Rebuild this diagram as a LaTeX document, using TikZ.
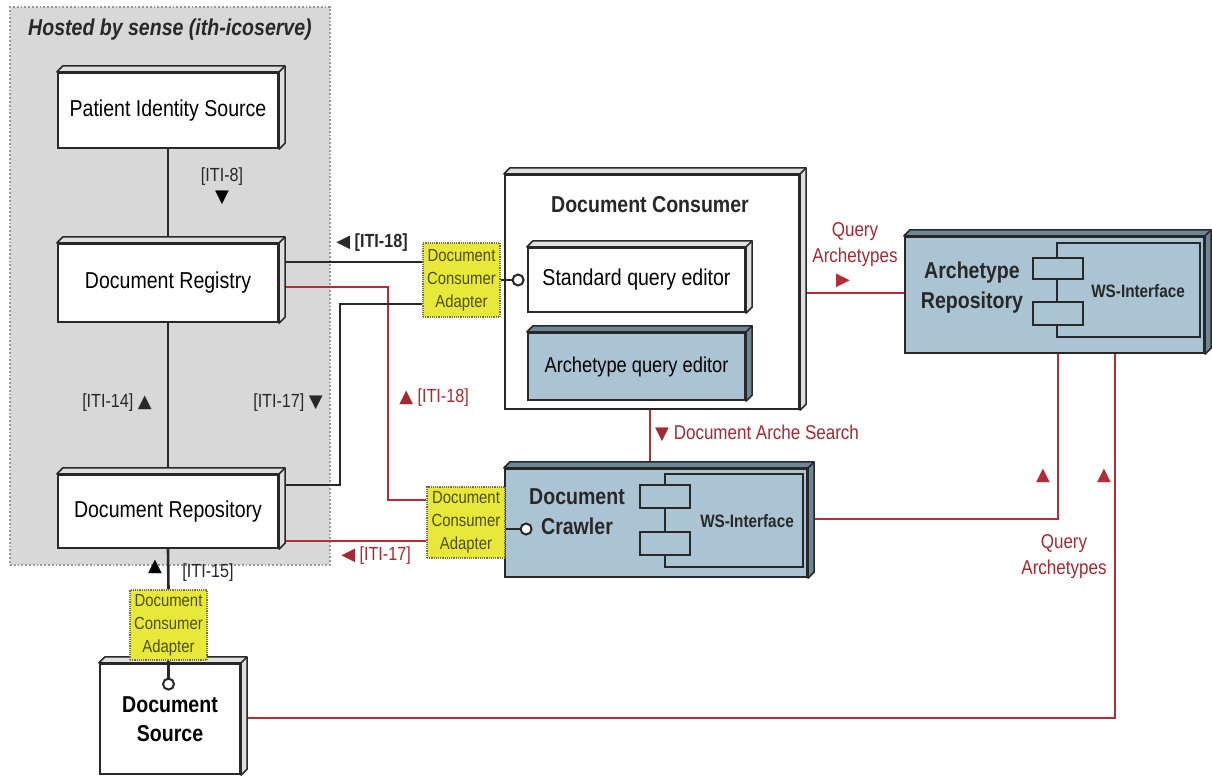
\documentclass[tikz,border=0pt]{standalone}
\usepackage{fontspec}
\setmainfont{Liberation Sans}[FakeStretch=0.85]
\newfontfamily\symf{DejaVu Sans}
\usetikzlibrary{calc}
\pgfdeclarelayer{bgzero}
\pgfdeclarelayer{bgone}
\pgfsetlayers{bgzero,bgone,main}
\definecolor{lred}{RGB}{178,45,55}
\definecolor{tred}{RGB}{165,40,50}
\definecolor{hostgray}{RGB}{216,216,216}
\definecolor{bluefill}{RGB}{170,196,212}
\definecolor{bluedark}{RGB}{110,135,150}
\definecolor{adyel}{RGB}{232,232,58}
\definecolor{adtxt}{RGB}{80,80,10}
\definecolor{edge}{RGB}{40,40,40}
\newcommand\extr[3]{%
  \filldraw[fill=#3, draw=edge, line width=1.6pt, line join=round]
    (#1.north west) -- ++(#2,-#2) -- ($(#1.north east)+(#2,-#2)$)
    -- ($(#1.south east)+(#2,-#2)$) -- (#1.south east) -- (#1.north east) -- cycle;
  \draw[edge, line width=1.6pt] (#1.north east) -- ++(#2,-#2);
}
\tikzset{
  wbox/.style={draw=edge, line width=2.2pt, fill=white, inner sep=0pt, align=center,
    font=\fontsize{23}{27}\selectfont},
  bbox/.style={wbox, fill=bluefill},
  bold/.style={font=\fontsize{23}{30}\selectfont\bfseries, align=center, inner sep=0pt, text=edge},
  adapter/.style={draw=adtxt!80, densely dotted, line width=1.2pt, fill=adyel, inner sep=0pt,
    align=center, text=adtxt, font=\fontsize{17.5}{23}\selectfont},
  conn/.style={line width=2.6pt, draw=edge},
  rconn/.style={line width=2.6pt, draw=lred},
  lbl/.style={font=\fontsize{19}{22}\selectfont, text=edge, inner sep=0pt, align=center},
  rlbl/.style={lbl, text=tred},
  tri/.style={font=\fontsize{18}{18}\selectfont\symf, inner sep=0pt},
  lolli/.style={circle, draw=edge, fill=white, line width=2pt, minimum size=11pt, inner sep=0pt},
  hosted/.style={draw=gray!80, dotted, line width=1.8pt, fill=hostgray, inner sep=0pt},
}
\newcommand\tg[1]{{\symf\fontsize{18}{18}\selectfont #1}}
\begin{document}
\begin{tikzpicture}[x=1pt,y=-1pt]
\useasboundingbox (0,0) rectangle (1212,780);
\begin{pgfonlayer}{bgzero}
\node[hosted, minimum width=320pt, minimum height=558pt] (host) at (170,286) {};
\end{pgfonlayer}
\node[anchor=west, inner sep=0pt, text=edge, font=\fontsize{23}{26}\selectfont\bfseries\itshape] (hosttitle) at (28,30) {Hosted by sense (ith-icoserve)};

% boxes
\node[wbox, minimum width=220pt, minimum height=75pt] (pis) at (168,110.5) {Patient Identity Source};
\node[wbox, minimum width=220pt, minimum height=78pt] (reg) at (168,283) {Document Registry};
\node[wbox, minimum width=220pt, minimum height=73pt] (repo) at (168,511.5) {Document Repository};
\node[wbox, minimum width=140pt, minimum height=110pt, font=\fontsize{23}{29}\selectfont\bfseries] (src) at (170,719) {Document\\Source};
\node[wbox, minimum width=294pt, minimum height=234pt] (cons) at (652,292) {};
\node[bold] (constitle) at (650,205) {Document Consumer};
\node[wbox, minimum width=217pt, minimum height=64pt] (sqe) at (636.5,280) {Standard query editor};
\node[bbox, minimum width=217pt, minimum height=67pt, font=\fontsize{21.5}{25}\selectfont] (aqe) at (636.5,366.5) {Archetype query editor};
\node[bbox, minimum width=302pt, minimum height=108pt] (crawl) at (656,523) {};
\node[bbox, minimum width=299pt, minimum height=116pt] (arch) at (1054.5,295) {};
\extr{pis}{6}{gray!25}
\extr{reg}{6}{gray!25}
\extr{repo}{6}{gray!25}
\extr{src}{6}{gray!25}
\extr{cons}{6}{gray!25}
\extr{sqe}{6}{gray!25}
\extr{aqe}{6}{bluedark}
\extr{crawl}{6}{bluedark}
\extr{arch}{6}{bluedark}

% WS interfaces
\node[draw=edge, line width=2pt, fill=bluefill, minimum width=143pt, minimum height=94pt, inner sep=0pt] (wsA) at (1128.5,290) {};
\node[draw=edge, line width=2pt, fill=bluefill, minimum width=50pt, minimum height=21pt, inner sep=0pt] (sA1) at (1058,268) {};
\node[draw=edge, line width=2pt, fill=bluefill, minimum width=50pt, minimum height=23pt, inner sep=0pt] (sA2) at (1058,313.5) {};
\node[bold, font=\fontsize{18}{20}\selectfont\bfseries] (wsAt) at (1138,291) {WS-Interface};
\node[bold] (archt) at (972,288) {Archetype\\Repository};
\node[draw=edge, line width=2pt, fill=bluefill, minimum width=138pt, minimum height=93pt, inner sep=0pt] (wsC) at (734,520.5) {};
\node[draw=edge, line width=2pt, fill=bluefill, minimum width=50pt, minimum height=23pt, inner sep=0pt] (sC1) at (665,496.5) {};
\node[draw=edge, line width=2pt, fill=bluefill, minimum width=50pt, minimum height=23pt, inner sep=0pt] (sC2) at (665,543.5) {};
\node[bold, font=\fontsize{18}{20}\selectfont\bfseries] (wsCt) at (747,521) {WS-Interface};
\node[bold] (crawlt) at (577,512) {Document\\Crawler};

% adapters
\node[adapter, minimum width=77pt, minimum height=74pt] (ad1) at (461.5,280) {Document\\Consumer\\Adapter};
\node[adapter, minimum width=78pt, minimum height=71pt] (ad2) at (466,522.5) {Document\\Consumer\\Adapter};
\node[adapter, minimum width=77pt, minimum height=70pt] (ad3) at (168.5,625) {Document\\Consumer\\Adapter};

% lollipops
\draw[conn] (ad1.east) -- ++(11,0) node[lolli, anchor=west] (lp1) {};
\draw[conn] (ad2.east |- 0,529) -- ++(14,0) node[lolli, anchor=west] (lp2) {};
\draw[conn] (ad3.south) -- ++(0,17) node[lolli, anchor=north] (lp3) {};

% connectors
\coordinate (kx1) at (388,0);
\coordinate (kx2) at (340,0);
\begin{pgfonlayer}{bgone}
\draw[conn] (pis.south) -- (reg.north);
\draw[conn] (reg.south) -- (repo.north);
\draw[conn] (repo.south) -- (ad3.north);
\path ([yshift=21pt]reg.east) coordinate (r1);
\draw[conn] (r1) -- (r1 -| ad1.west);
\path ([yshift=-4pt]reg.east) coordinate (r2);
\path ([yshift=22.5pt]ad2.west) coordinate (a2in);
\draw[rconn] (r2) -- (r2 -| kx1) |- (a2in);
\path ([yshift=-24pt]ad1.west) coordinate (a1b);
\path ([yshift=26.5pt]repo.east) coordinate (p1);
\draw[conn] (a1b) -- (a1b -| kx2) |- (p1);
\path ([yshift=-29.5pt]repo.east) coordinate (p2);
\draw[rconn] (p2) -- (p2 -| ad2.west);
\path ([xshift=13.5pt]aqe.south) coordinate (q1);
\draw[rconn] (q1) -- (q1 |- crawl.north);
\path ([yshift=-1pt]cons.east) coordinate (c1);
\draw[rconn] (c1) -- (c1 -| arch.west);
\path ([yshift=4pt]crawl.east) coordinate (w1);
\draw[rconn] (w1) -| ([xshift=3.5pt]arch.south);
\path ([yshift=1pt]src.east) coordinate (s1);
\draw[rconn] (s1) -| ([xshift=60.5pt]arch.south);
\end{pgfonlayer}

% labels
\node[lbl] (l8) at (222,177) {[ITI-8]};
\node[tri] (l8t) at (222,198) {▼};
\node[lbl] (l14) at (117,403) {[ITI-14] \tg{▲}};
\node[lbl] (l17) at (288,403) {[ITI-17] \tg{▼}};
\node[lbl, font=\fontsize{19}{22}\selectfont\bfseries] (l18) at (372,243) {\tg{◀} [ITI-18]};
\node[rlbl] (l18r) at (434,398) {\tg{▲} [ITI-18]};
\node[rlbl] (l17r) at (376,556) {\tg{◀} [ITI-17]};
\node[tri] (l15t) at (155,567) {▲};
\node[lbl] (l15) at (208,573) {[ITI-15]};
\node[rlbl, anchor=west, font=\fontsize{20}{22}\selectfont] (das) at (655,433) {\tg{▼} Document Arche Search};
\node[rlbl, font=\fontsize{20}{26}\selectfont] (qa1) at (855,245) {Query\\Archetypes};
\node[tri, text=lred] (qa1t) at (843,281) {▶};
\node[rlbl, font=\fontsize{20}{26}\selectfont] (qa2) at (1064,557) {Query\\Archetypes};
\node[tri, text=lred] (qa2a) at (1043,476) {▲};
\node[tri, text=lred] (qa2b) at (1104,476) {▲};
\end{tikzpicture}
\end{document}
